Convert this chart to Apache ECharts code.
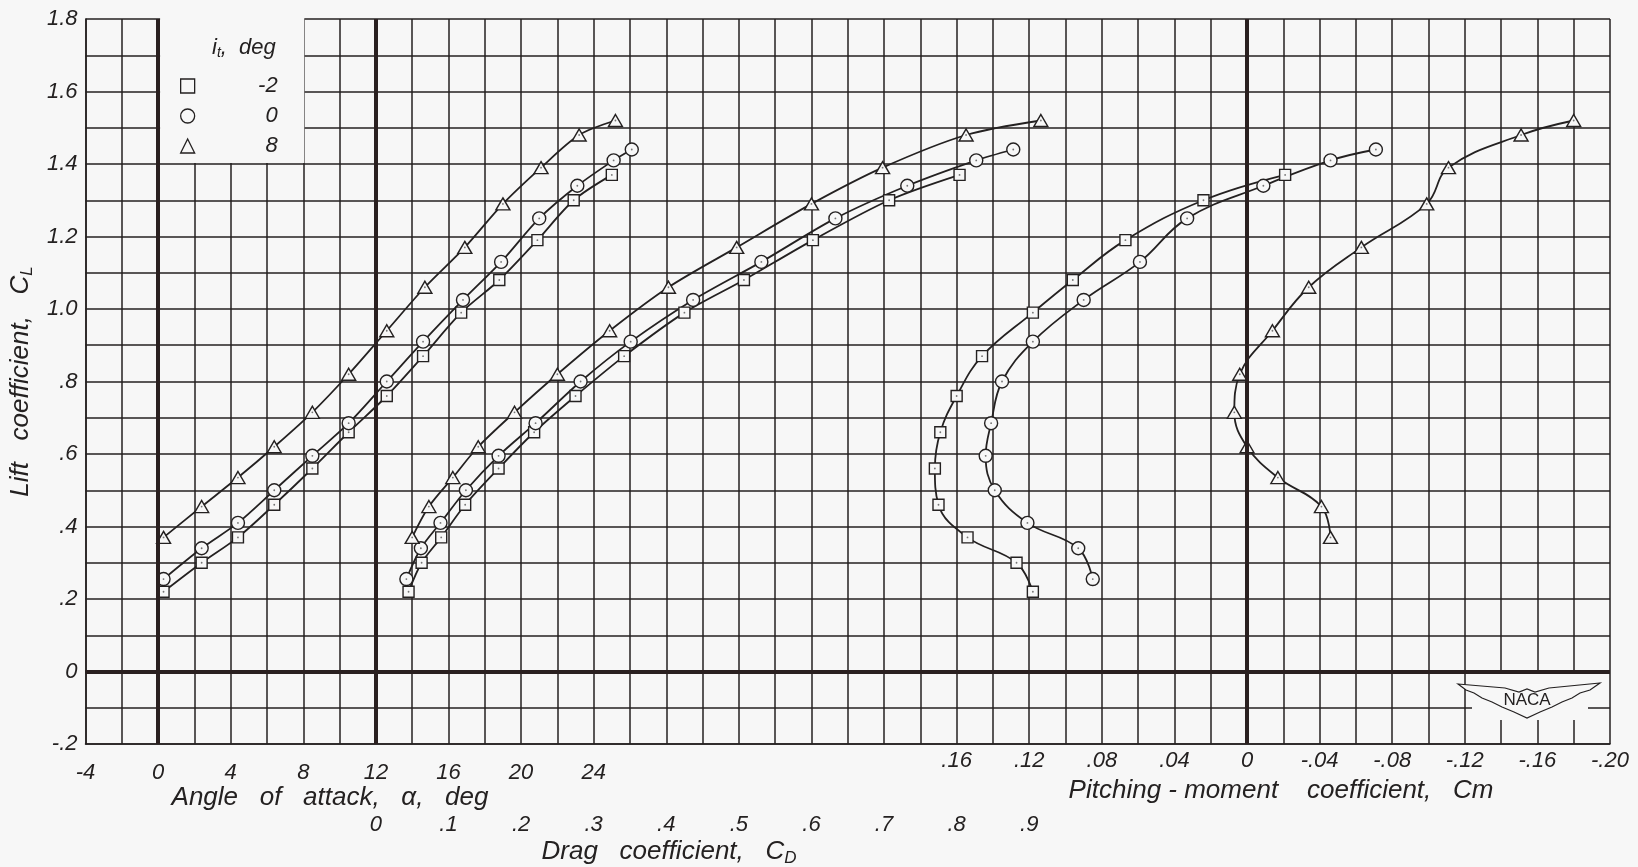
<!DOCTYPE html>
<html><head><meta charset="utf-8">
<script src="https://cdn.jsdelivr.net/npm/echarts@6/dist/echarts.min.js"></script>
<style>html,body{margin:0;padding:0;background:#f7f7f7}#c{width:1638px;height:867px}</style>
</head><body><div id="c"></div>
<script>
// ---- data ----
const itLabels = ['-2', '0', '8'];

// i_t = -2 (squares)
const clSq    = [0.22, 0.30, 0.37, 0.46, 0.56, 0.66, 0.76, 0.87, 0.99, 1.08, 1.19, 1.30, 1.37];
const alphaSq = [0.3, 2.4, 4.4, 6.4, 8.5, 10.5, 12.6, 14.6, 16.7, 18.8, 20.9, 22.9, 25.0];
const cdSq    = [0.045, 0.063, 0.090, 0.123, 0.169, 0.218, 0.275, 0.342, 0.425, 0.507, 0.602, 0.707, 0.804];
const cmSq    = [0.118, 0.127, 0.154, 0.170, 0.172, 0.169, 0.160, 0.146, 0.118, 0.096, 0.067, 0.024, -0.021];

// i_t = 0 (circles)
const clCi    = [0.255, 0.34, 0.41, 0.50, 0.595, 0.685, 0.80, 0.91, 1.025, 1.13, 1.25, 1.34, 1.41, 1.44];
const alphaCi = [0.3, 2.4, 4.4, 6.4, 8.5, 10.5, 12.6, 14.6, 16.8, 18.9, 21.0, 23.1, 25.1, 26.1];
const cdCi    = [0.042, 0.062, 0.089, 0.124, 0.169, 0.220, 0.282, 0.351, 0.437, 0.531, 0.633, 0.732, 0.827, 0.878];
const cmCi    = [0.085, 0.093, 0.121, 0.139, 0.144, 0.141, 0.135, 0.118, 0.090, 0.059, 0.033, -0.009, -0.046, -0.071];

// i_t = 8 (triangles)
const clTr    = [0.37, 0.455, 0.535, 0.62, 0.715, 0.82, 0.94, 1.06, 1.17, 1.29, 1.39, 1.48, 1.52];
const alphaTr = [0.3, 2.4, 4.4, 6.4, 8.5, 10.5, 12.6, 14.7, 16.9, 19.0, 21.1, 23.2, 25.2];
const cdTr    = [0.050, 0.073, 0.106, 0.141, 0.191, 0.250, 0.322, 0.403, 0.497, 0.600, 0.698, 0.813, 0.916];
const cmTr    = [-0.046, -0.041, -0.017, 0.000, 0.007, 0.004, -0.014, -0.034, -0.063, -0.099, -0.111, -0.151, -0.180];

// tick labels
const alphaTicks = [-4, 0, 4, 8, 12, 16, 20, 24];
const cdTicks = [0, 0.1, 0.2, 0.3, 0.4, 0.5, 0.6, 0.7, 0.8, 0.9];
const cmTicks = [0.16, 0.12, 0.08, 0.04, 0, -0.04, -0.08, -0.12, -0.16, -0.20];
const clTicks = [-0.2, 0, 0.2, 0.4, 0.6, 0.8, 1.0, 1.2, 1.4, 1.6, 1.8];

// ---- chart ----
const INK = '#242121';
const BG = '#f7f7f7';
const FONT = 'Liberation Sans';
const chart = echarts.init(document.getElementById('c'), null, {renderer: 'canvas'});

const has = (arr, v) => arr.some(t => Math.abs(t - v) < 1e-6);
function fmtCL(v) {
  if (!has(clTicks, v)) return '';
  const r = Math.round(v * 10);
  if (r === 0) return '0';
  if (Math.abs(r) >= 10) return (r / 10).toFixed(1);
  return (r < 0 ? '-.' : '.') + Math.abs(r);
}
function fmtCD(v) {
  if (!has(cdTicks, v)) return '';
  const r = Math.round(v * 10);
  return r === 0 ? '0' : '.' + r;
}
function fmtCm(v) {
  if (!has(cmTicks, v)) return '';
  const r = Math.round(v * 100);
  if (r === 0) return '0';
  const s = String(Math.abs(r)).padStart(2, '0');
  return (r < 0 ? '-.' : '.') + s;
}

const setData = [
  {name: itLabels[0], sym: 'rect', size: 11, cl: clSq, a: alphaSq, cd: cdSq, cm: cmSq},
  {name: itLabels[1], sym: 'circle', size: 13, cl: clCi, a: alphaCi, cd: cdCi, cm: cmCi},
  {name: itLabels[2], sym: 'triangle', size: [14, 12], cl: clTr, a: alphaTr, cd: cdTr, cm: cmTr}
];

const series = [];
const dots = [];
setData.forEach((s, k) => {
  const base = {
    type: 'line', name: s.name, symbol: s.sym, symbolSize: s.size, smooth: 0.3,
    showAllSymbol: true,
    lineStyle: {color: INK, width: 1.8},
    itemStyle: {color: BG, borderColor: INK, borderWidth: 1.4},
    emphasis: {disabled: true}, animation: false, z: 3
  };
  const sets = [
    {xi: 0, d: s.a.map((v, i) => [v, s.cl[i]]), sm: 0.3},
    {xi: 1, d: s.cd.map((v, i) => [v, s.cl[i]]), sm: 0.3},
    {xi: 2, d: s.cm.map((v, i) => [v, s.cl[i]]), sm: 0.4}
  ];
  sets.forEach(o => {
    series.push(Object.assign({}, base, {xAxisIndex: o.xi, smooth: o.sm, data: o.d}));
    // small centre dot inside each hollow symbol
    dots.push({type: 'scatter', name: s.name + ' pt', xAxisIndex: o.xi, data: o.d, symbol: 'circle',
      symbolSize: 1.8, itemStyle: {color: '#555'}, silent: true, z: 4, animation: false});
  });
});
// heavy reference lines
const heavy = {color: '#2a2020', width: 4, type: 'solid'};
series[0].markLine = {silent: true, symbol: 'none', label: {show: false}, lineStyle: heavy, animation: false,
  data: [{xAxis: 0}, {xAxis: 12}, {yAxis: 0}]};
series[2].markLine = {silent: true, symbol: 'none', label: {show: false}, lineStyle: heavy, animation: false,
  data: [{xAxis: 0}]};

const lblStyle = {color: INK, fontFamily: FONT, fontStyle: 'italic', fontSize: 22};

chart.setOption({
  backgroundColor: BG,
  animation: false,
  textStyle: {fontFamily: FONT},
  grid: {left: 79, right: 28, top: 19, bottom: 123, containLabel: false},
  xAxis: [
    {type: 'value', min: -4, max: 80, interval: 2, position: 'bottom',
     axisLine: {show: true, onZero: false, lineStyle: {color: INK, width: 1.5}},
     axisTick: {show: false},
     splitLine: {show: true, lineStyle: {color: INK, width: 1.5}},
     axisLabel: Object.assign({}, lblStyle, {margin: 18, formatter: v => has(alphaTicks, v) ? String(v) : ''})},
    {type: 'value', min: -0.4, max: 1.7, interval: 0.1, position: 'bottom', offset: 56,
     axisLine: {show: false}, axisTick: {show: false}, splitLine: {show: false},
     axisLabel: Object.assign({}, lblStyle, {margin: 14, formatter: fmtCD})},
    {type: 'value', min: -0.2, max: 0.64, interval: 0.04, inverse: true, position: 'bottom',
     axisLine: {show: false}, axisTick: {show: false}, splitLine: {show: false},
     axisLabel: Object.assign({}, lblStyle, {margin: 6, formatter: fmtCm})}
  ],
  yAxis: [
    {type: 'value', min: -0.2, max: 1.8, interval: 0.1,
     axisLine: {show: true, onZero: false, lineStyle: {color: INK, width: 1.5}},
     axisTick: {show: false},
     splitLine: {show: true, lineStyle: {color: INK, width: 1.5}},
     axisLabel: Object.assign({}, lblStyle, {margin: 8, formatter: fmtCL}),
     name: '{a|Lift   coefficient,   C}{s|L}', nameLocation: 'middle', nameGap: 50, nameRotate: 90,
     nameTextStyle: {rich: {
       a: {fontFamily: FONT, fontStyle: 'italic', fontSize: 26, color: INK},
       s: {fontFamily: FONT, fontStyle: 'italic', fontSize: 17, color: INK, padding: [12, 0, 0, 0]}
     }}}
  ],
  legend: {
    show: true, orient: 'vertical', left: 180, top: 75, padding: 0,
    itemWidth: 14, itemHeight: 14, itemGap: 8,
    data: [{name: itLabels[0], icon: 'rect'}, {name: itLabels[1], icon: 'circle'}, {name: itLabels[2], icon: 'triangle'}],
    itemStyle: {color: BG, borderColor: INK, borderWidth: 1.3},
    selectedMode: false,
    textStyle: {rich: {w: {width: 78, align: 'right', fontFamily: FONT, fontStyle: 'italic', fontSize: 22, color: INK, lineHeight: 18}}},
    formatter: n => '{w|' + n + '}'
  },
  series: series.concat(dots)
});

// layout-dependent decorations (legend box, titles, logo)
const p0 = chart.convertToPixel({xAxisIndex: 0, yAxisIndex: 0}, [0, 1.8]);
const p1 = chart.convertToPixel({xAxisIndex: 0, yAxisIndex: 0}, [8, 1.4]);
const titleRich = {
  a: {fontFamily: FONT, fontStyle: 'italic', fontSize: 26, fill: INK},
  s: {fontFamily: FONT, fontStyle: 'italic', fontSize: 17, fill: INK, padding: [12, 0, 0, 0]}
};
chart.setOption({
  graphic: [
    {type: 'rect', z: 1, shape: {x: p0[0] + 2, y: p0[1] - 1, width: p1[0] - p0[0] - 1, height: p1[1] - p0[1]},
     style: {fill: BG}},
    {type: 'text', z: 5, left: 212, top: 37,
     style: {text: '{a|i}{s|t}{a|,  deg}', rich: {
       a: {fontFamily: FONT, fontStyle: 'italic', fontSize: 22, fill: INK},
       s: {fontFamily: FONT, fontStyle: 'italic', fontSize: 14, fill: INK, padding: [10, 0, 0, 0]}}}},
    {type: 'text', z: 5, x: 330, y: 798,
     style: {text: '{a|Angle   of   attack,   α,   deg}', rich: titleRich, align: 'center', verticalAlign: 'middle'}},
    {type: 'text', z: 5, x: 669, y: 852,
     style: {text: '{a|Drag   coefficient,   C}{s|D}', rich: titleRich, align: 'center', verticalAlign: 'middle'}},
    {type: 'text', z: 5, x: 1281, y: 791,
     style: {text: '{a|Pitching - moment    coefficient,   Cm}', rich: titleRich, align: 'center', verticalAlign: 'middle'}},
    // NACA logo
    {type: 'rect', z: 4, shape: {x: 1472, y: 672, width: 116, height: 48}, style: {fill: BG}},
    {type: 'polygon', z: 5, shape: {points: [
      [1458, 684], [1505, 688], [1519, 692], [1527, 689], [1535, 692], [1549, 688], [1600, 683],
      [1590, 690], [1580, 693], [1572, 698], [1562, 702], [1552, 707], [1540, 712], [1527, 718],
      [1514, 712], [1502, 707], [1492, 702], [1482, 698], [1474, 693], [1466, 690]]},
     style: {fill: BG, stroke: INK, lineWidth: 1.2}},
    {type: 'text', z: 6, x: 1527, y: 700,
     style: {text: 'NACA', font: '17px "Liberation Sans"', fill: INK, align: 'center', verticalAlign: 'middle'}}
  ]
});
</script>
</body></html>
